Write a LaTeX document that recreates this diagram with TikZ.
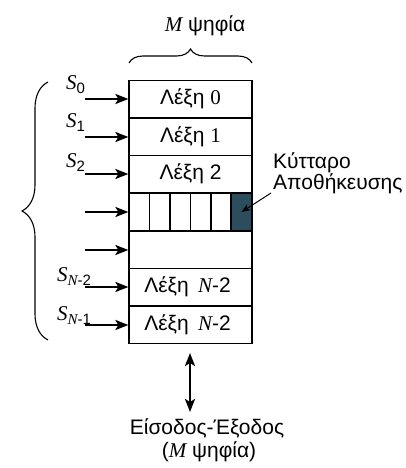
\documentclass[tikz,border=0pt]{standalone}
\usepackage{fontspec}
\setmainfont{Liberation Sans}
\newfontfamily\serifit[ItalicFont={Liberation Serif Italic}]{Liberation Serif}
\usetikzlibrary{decorations.pathreplacing,arrows.meta}
\newcommand{\mi}[1]{{\serifit\itshape #1}}
\newcommand{\sv}[1]{{\serifit #1}}
\newcommand{\Slab}[1]{\mi{S}\raisebox{-4pt}{\fontsize{15}{15}\selectfont #1}}
\begin{document}
\begin{tikzpicture}[x=1pt,y=-1pt,
  txt/.style={font=\fontsize{21}{23}\selectfont, inner sep=0pt},
  rowbox/.style={draw, line width=1.2pt, minimum width=123pt, minimum height=37.7pt, inner sep=0pt, font=\fontsize{21}{23}\selectfont},
  arr/.style={line width=2.2pt, -{Stealth[length=13pt,width=10pt,inset=3pt]}},
  brace/.style={decorate, decoration={brace, amplitude=#1}, line width=1.1pt}]
\useasboundingbox (0,0) rectangle (405,468);
% rows
\node[rowbox] (r0) at (190.5,99)   {Λέξη \sv{0}};
\node[rowbox] (r1) at (190.5,137)  {Λέξη \sv{1}};
\node[rowbox] (r2) at (190.5,174)  {Λέξη 2};
\node[rowbox] (r3) at (190.5,212)  {};
\node[rowbox] (r4) at (190.5,250)  {};
\node[rowbox] (r5) at (190.5,287)  {Λέξη \,\mi{N}-2\hspace*{6pt}};
\node[rowbox] (r6) at (190.5,325)  {Λέξη \,\mi{N}-2\hspace*{6pt}};
% cells
\node[draw, line width=1.2pt, fill={rgb,255:red,44;green,77;blue,94}, minimum width=21pt, minimum height=37.7pt, inner sep=0pt] (cell) at (241.5,212) {};
\foreach \x in {149.5,170,190.5,211,231}{
  \draw[line width=1.2pt] (\x,193.15) -- (\x,230.85);
}
% input arrows
\foreach \i/\y in {0/99,1/137,2/174,3/212,4/250,5/287,6/325}{
  \coordinate (a\i) at (85,\y);
  \draw[arr] (a\i) -- (r\i.west);
}
% S labels
\node[txt, anchor=base west] (s0) at (66,90) {\Slab{0}};
\node[txt, anchor=base west] (s1) at (66,128) {\Slab{1}};
\node[txt, anchor=base west] (s2) at (66,167) {\Slab{2}};
\node[txt, anchor=base west] (s5) at (57,281) {\Slab{\mi{N}-2}};
\node[txt, anchor=base west] (s6) at (57,320) {\Slab{\mi{N}-1}};
% top brace
\coordinate (tb1) at (129,63);
\coordinate (tb2) at (252,63);
\draw[brace=14pt] (tb1) -- (tb2);
\node[txt] (mtop) at (205,26) {\mi{M} ψηφία};
% left brace
\coordinate (lb1) at (48,340);
\coordinate (lb2) at (48,82);
\draw[brace=26pt] (lb1) -- (lb2);
% annotation
\node[txt, anchor=base west] (k1) at (273,168) {Κύτταρο};
\node[txt, anchor=base west] (k2) at (273,189) {Αποθήκευσης};
\coordinate (kstart) at (271,193);
\draw[line width=1pt, -{Stealth[length=9pt,width=7pt]}] (kstart) -- (cell.center);
% io
\node[txt] (io1) at (207,428) {Είσοδος-Έξοδος};
\node[txt] (io2) at (209,452) {(\mi{M} ψηφία)};
\coordinate (iotop) at (190,353);
\coordinate (iobot) at (190,412);
\draw[line width=2.2pt, {Stealth[length=13pt,width=10pt,inset=3pt]}-{Stealth[length=13pt,width=10pt,inset=3pt]}] (iotop) -- (iobot);
\end{tikzpicture}
\end{document}
